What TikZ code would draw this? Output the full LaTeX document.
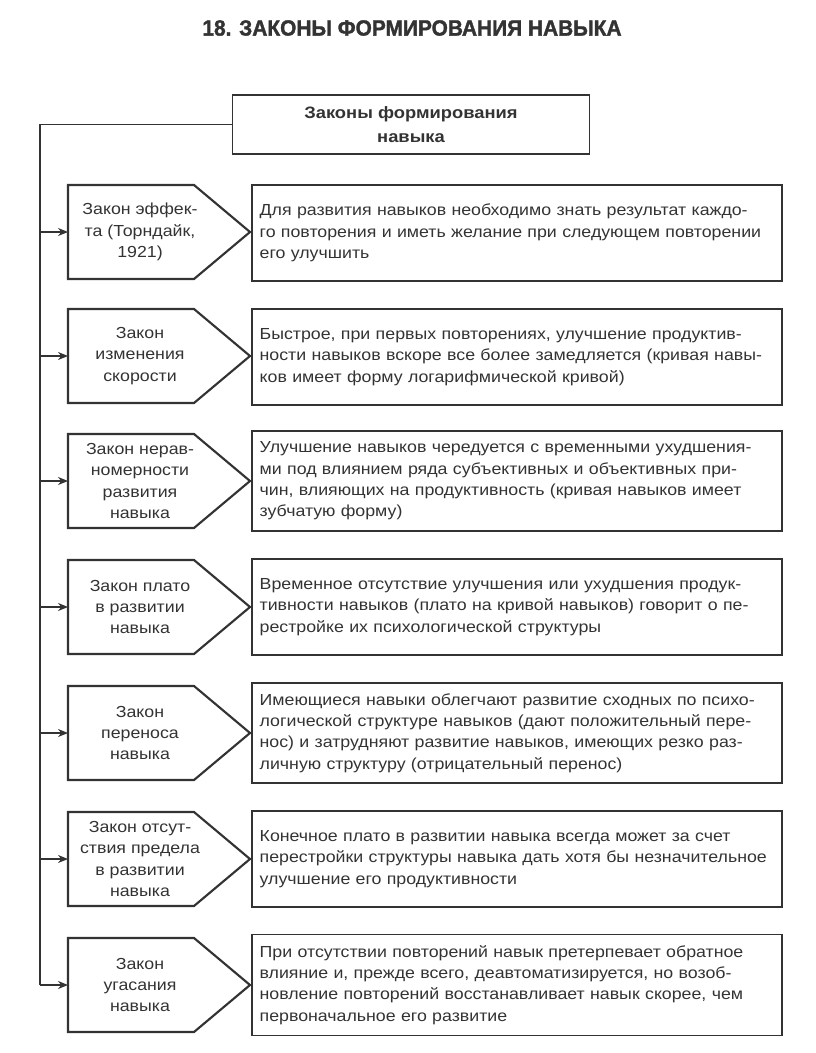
\documentclass[tikz,border=0pt]{standalone}
\usepackage{fontspec}
\setmainfont{Liberation Sans}[FakeStretch=1.11]
\newfontfamily\titlefont{Liberation Sans}[FakeStretch=0.95, BoldFeatures={FakeBold=1.6}]
\usetikzlibrary{arrows.meta}
\definecolor{ink}{HTML}{333333}
\begin{document}
\begin{tikzpicture}[x=0.75pt,y=-0.75pt,
        every node/.style={text=ink, font=\fontsize{12}{16}\selectfont},
        laws/.style={draw=ink, line width=1.4pt, minimum width=267.75pt, minimum height=44.25pt,
            align=center, font=\fontsize{12.4}{18}\selectfont\bfseries},
        law/.style={align=center},
        desc/.style={draw=ink, line width=1.1pt, minimum width=397.5pt, minimum height=72pt,
            text width=386pt, inner xsep=5.75pt, inner ysep=8pt, align=left},
        pent/.style={draw=ink, line width=1.6pt, line join=miter},
        conn/.style={draw=ink, line width=0.9pt},
        arr/.style={conn, -{Stealth[length=7.5pt,width=6pt]}}]
    \useasboundingbox (0,0) rectangle (816,1053);
    \node[font=\titlefont\fontsize{16.5}{20}\selectfont\bfseries] (title) at (412,28)
        {18. ЗАКОНЫ ФОРМИРОВАНИЯ НАВЫКА};
    \node[laws] (head) at (411,124.5) {Законы формирования\\навыка};

    % law shapes
    \draw[pent] (68,232) coordinate (in1) -- (68,185) -- (194,185) -- (250,232) -- (194,279) -- (68,279) -- cycle;
    \draw[pent] (68,356) coordinate (in2) -- (68,309) -- (194,309) -- (250,356) -- (194,403) -- (68,403) -- cycle;
    \draw[pent] (68,481) coordinate (in3) -- (68,434) -- (194,434) -- (250,481) -- (194,528) -- (68,528) -- cycle;
    \draw[pent] (68,607) coordinate (in4) -- (68,560) -- (194,560) -- (250,607) -- (194,654) -- (68,654) -- cycle;
    \draw[pent] (68,733) coordinate (in5) -- (68,686) -- (194,686) -- (250,733) -- (194,780) -- (68,780) -- cycle;
    \draw[pent] (68,859) coordinate (in6) -- (68,812) -- (194,812) -- (250,859) -- (194,906) -- (68,906) -- cycle;
    \draw[pent] (68,985) coordinate (in7) -- (68,938) -- (194,938) -- (250,985) -- (194,1032) -- (68,1032) -- cycle;

    \node[law] (l1) at (140,232) {Закон эффек-\\та (Торндайк,\\1921)};
    \node[law] (l2) at (140,356) {Закон\\изменения\\скорости};
    \node[law] (l3) at (140,481) {Закон нерав-\\номерности\\развития\\навыка};
    \node[law] (l4) at (140,607) {Закон плато\\в развитии\\навыка};
    \node[law] (l5) at (140,733) {Закон\\переноса\\навыка};
    \node[law] (l6) at (140,859) {Закон отсут-\\ствия предела\\в развитии\\навыка};
    \node[law] (l7) at (140,985) {Закон\\угасания\\навыка};

    % descriptions
    \node[desc] (d1) at (517,233) {Для развития навыков необходимо знать результат каждо-\\го повторения и иметь желание при следующем повторении\\его улучшить};
    \node[desc] (d2) at (517,357) {Быстрое, при первых повторениях, улучшение продуктив-\\ности навыков вскоре все более замедляется (кривая навы-\\ков имеет форму логарифмической кривой)};
    \node[desc] (d3) at (517,481) {Улучшение навыков чередуется с временными ухудшения-\\ми под влиянием ряда субъективных и объективных при-\\чин, влияющих на продуктивность (кривая навыков имеет\\зубчатую форму)};
    \node[desc] (d4) at (517,607) {Временное отсутствие улучшения или ухудшения продук-\\тивности навыков (плато на кривой навыков) говорит о пе-\\рестройке их психологической структуры};
    \node[desc] (d5) at (517,733) {Имеющиеся навыки облегчают развитие сходных по психо-\\логической структуре навыков (дают положительный пере-\\нос) и затрудняют развитие навыков, имеющих резко раз-\\личную структуру (отрицательный перенос)};
    \node[desc] (d6) at (517,859) {Конечное плато в развитии навыка всегда может за счет\\перестройки структуры навыка дать хотя бы незначительное\\улучшение его продуктивности};
    \node[desc] (d7) at (517,985) {При отсутствии повторений навык претерпевает обратное\\влияние и, прежде всего, деавтоматизируется, но возоб-\\новление повторений восстанавливает навык скорее, чем\\первоначальное его развитие};

    % trunk and arrows
    \draw[conn] (head.west) -| (40,985) coordinate (tr7);
    \draw[arr] (40,232) coordinate (tr1) -- (in1);
    \draw[arr] (40,356) coordinate (tr2) -- (in2);
    \draw[arr] (40,481) coordinate (tr3) -- (in3);
    \draw[arr] (40,607) coordinate (tr4) -- (in4);
    \draw[arr] (40,733) coordinate (tr5) -- (in5);
    \draw[arr] (40,859) coordinate (tr6) -- (in6);
    \draw[arr] (tr7) -- (in7);
\end{tikzpicture}
\end{document}
